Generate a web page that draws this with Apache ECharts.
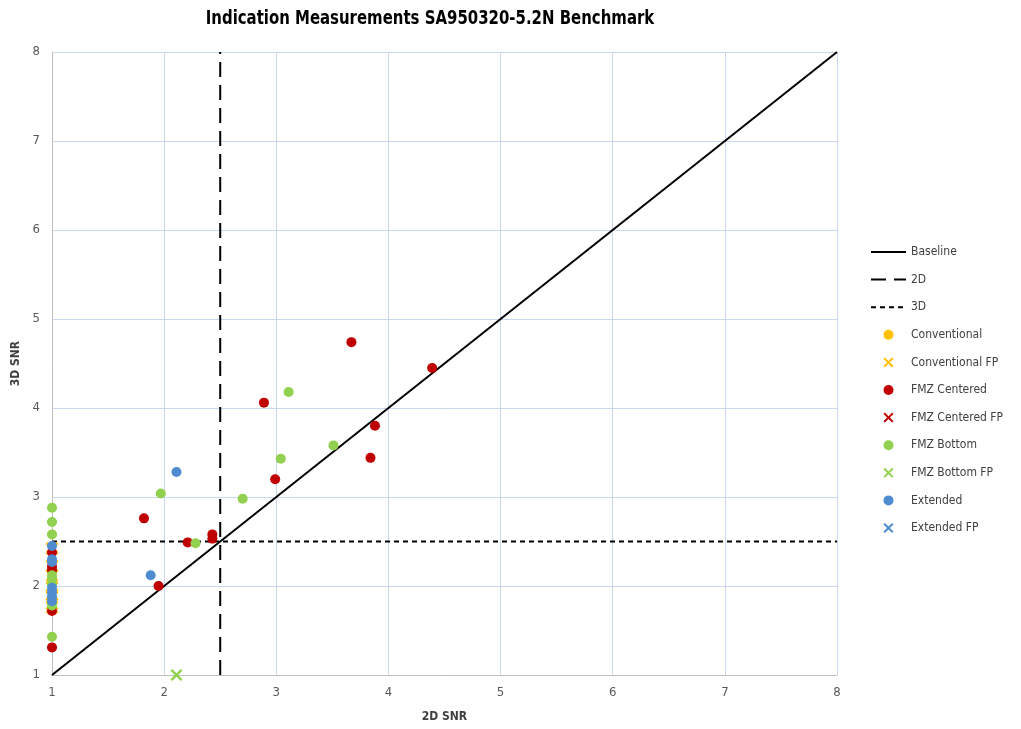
<!DOCTYPE html>
<html>
<head>
<meta charset="utf-8">
<title>Indication Measurements SA950320-5.2N Benchmark</title>
<script src="https://cdn.jsdelivr.net/npm/echarts@6/dist/echarts.min.js"></script>
<style>
  html, body { margin: 0; padding: 0; background: #ffffff; }
  #chart { width: 1021px; height: 729px; }
</style>
</head>
<body>
<div id="chart"></div>
<script>
// Axis ticks
const axisTicks = [1, 2, 3, 4, 5, 6, 7, 8];

// Reference lines
const baselineX = [1, 8];
const baselineY = [1, 8];
const line2dX = [2.5, 2.5];
const line2dY = [1, 8];
const line3dX = [1, 8];
const line3dY = [2.5, 2.5];

// Indications (2D SNR, 3D SNR)
const conventionalX = [1, 1, 1];
const conventionalY = [2.15, 2.05, 1.74];

const conventionalFpX = [1, 1, 1, 1, 1, 1, 1];
const conventionalFpY = [2.42, 2.33, 2.12, 1.98, 1.90, 1.80, 1.76];

const centeredX = [3.67, 4.39, 2.89, 3.88, 3.84, 2.99, 1.82, 2.21, 2.43, 2.43, 1.95, 1, 1, 1, 1, 1];
const centeredY = [4.74, 4.45, 4.06, 3.80, 3.44, 3.20, 2.76, 2.49, 2.58, 2.53, 2.00, 2.38, 2.22, 2.18, 1.72, 1.31];

const centeredFpX = [];
const centeredFpY = [];

const bottomX = [3.11, 3.51, 3.04, 2.70, 1.97, 2.28, 1, 1, 1, 1, 1, 1, 1, 1];
const bottomY = [4.18, 3.58, 3.43, 2.98, 3.04, 2.48, 2.88, 2.72, 2.58, 2.12, 2.08, 2.02, 1.78, 1.43];

const bottomFpX = [2.11];
const bottomFpY = [1.0];

const extendedX = [2.11, 1.88, 1, 1, 1, 1, 1, 1, 1];
const extendedY = [3.28, 2.12, 2.45, 2.30, 2.27, 1.98, 1.93, 1.88, 1.83];

const extendedFpX = [];
const extendedFpY = [];

const zip = (xs, ys) => xs.map((x, i) => [x, ys[i]]);

// Filled cross shape used for the "FP" markers
const CROSS = 'path://M0,1.4L1.4,0L5,3.6L8.6,0L10,1.4L6.4,5L10,8.6L8.6,10L5,6.4L1.4,10L0,8.6L3.6,5Z';

const FONT = '"DejaVu Sans Condensed", "DejaVu Sans", sans-serif';
const TITLE = 'Indication Measurements SA950320-5.2N Benchmark';

const YELLOW = '#FFC000';
const RED = '#C00000';
const GREEN = '#92D050';
const BLUE = '#4E8CCF';

function refLine(name, xs, ys, type) {
  return {
    name, type: 'line', data: zip(xs, ys), symbol: 'none', silent: true,
    lineStyle: { color: '#000000', width: 2, type },
    z: 3
  };
}

function dots(name, xs, ys, color, symbol, size) {
  return {
    name, type: 'scatter', data: zip(xs, ys), symbol, symbolSize: size,
    itemStyle: { color, opacity: 1 }, clip: false, z: 4
  };
}

// line entries in the legend show only their stroke
const hiddenMarker = { color: 'rgba(0,0,0,0)', borderWidth: 0, opacity: 0 };

const chart = echarts.init(document.getElementById('chart'), null, { renderer: 'canvas' });

chart.setOption({
  animation: false,
  backgroundColor: '#ffffff',
  graphic: [{
    type: 'text', x: 430, y: 19, scaleX: 0.83, z: 10,
    style: {
      text: TITLE, fill: '#000000',
      font: 'bold 20px ' + FONT,
      textAlign: 'center', textVerticalAlign: 'middle'
    }
  }],
  grid: { left: 52, top: 52, width: 785, height: 623, containLabel: false },
  legend: {
    orient: 'vertical', left: 870, top: 246, padding: 0,
    itemWidth: 35, itemHeight: 10, itemGap: 15.6,
    textStyle: { fontFamily: FONT, fontSize: 12, color: '#404040' },
    data: [
      { name: 'Baseline', itemStyle: hiddenMarker },
      { name: '2D', itemStyle: hiddenMarker },
      { name: '3D', itemStyle: hiddenMarker },
      { name: 'Conventional', icon: 'circle' },
      { name: 'Conventional FP', icon: CROSS },
      { name: 'FMZ Centered', icon: 'circle' },
      { name: 'FMZ Centered FP', icon: CROSS },
      { name: 'FMZ Bottom', icon: 'circle' },
      { name: 'FMZ Bottom FP', icon: CROSS },
      { name: 'Extended', icon: 'circle' },
      { name: 'Extended FP', icon: CROSS }
    ]
  },
  xAxis: {
    type: 'value', min: axisTicks[0], max: axisTicks[axisTicks.length - 1], interval: 1,
    name: '2D SNR', nameLocation: 'middle', nameGap: 36,
    nameTextStyle: { fontFamily: FONT, fontSize: 12, fontWeight: 'bold', color: '#404040' },
    axisLine: { show: true, lineStyle: { color: '#BFBFBF', width: 1 } },
    axisTick: { show: false },
    axisLabel: { margin: 11, fontFamily: FONT, fontSize: 13, color: '#595959' },
    splitLine: { show: true, lineStyle: { color: '#C9D7EF', width: 1 } }
  },
  yAxis: {
    type: 'value', min: axisTicks[0], max: axisTicks[axisTicks.length - 1], interval: 1,
    name: '3D SNR', nameLocation: 'middle', nameGap: 19, nameRotate: 90,
    nameTextStyle: { fontFamily: FONT, fontSize: 12, fontWeight: 'bold', color: '#404040' },
    axisLine: { show: true, lineStyle: { color: '#BFBFBF', width: 1 } },
    axisTick: { show: false },
    axisLabel: { margin: 12, fontFamily: FONT, fontSize: 13, color: '#595959' },
    splitLine: { show: true, lineStyle: { color: '#C9D7EF', width: 1 } }
  },
  series: [
    refLine('Baseline', baselineX, baselineY, 'solid'),
    refLine('2D', line2dX, line2dY, [15, 8]),
    refLine('3D', line3dX, line3dY, [5, 4]),
    dots('Conventional', conventionalX, conventionalY, YELLOW, 'circle', 10),
    dots('Conventional FP', conventionalFpX, conventionalFpY, YELLOW, CROSS, 13),
    dots('FMZ Centered', centeredX, centeredY, RED, 'circle', 10),
    dots('FMZ Centered FP', centeredFpX, centeredFpY, RED, CROSS, 10),
    dots('FMZ Bottom', bottomX, bottomY, GREEN, 'circle', 10),
    dots('FMZ Bottom FP', bottomFpX, bottomFpY, GREEN, CROSS, 12),
    dots('Extended', extendedX, extendedY, BLUE, 'circle', 10),
    dots('Extended FP', extendedFpX, extendedFpY, BLUE, CROSS, 10)
  ]
});
</script>
</body>
</html>
